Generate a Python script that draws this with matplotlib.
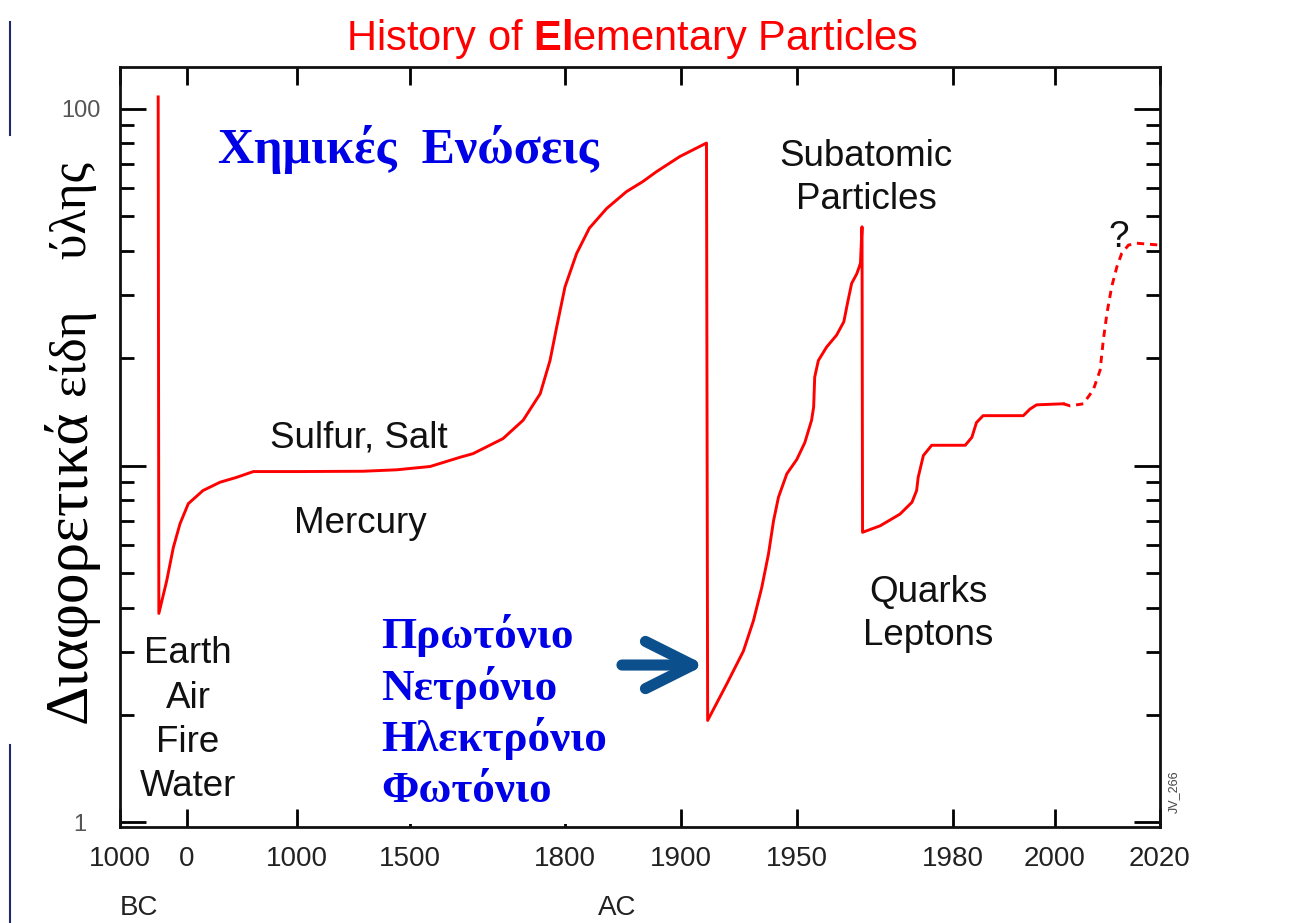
import numpy as np
import matplotlib.pyplot as plt
from matplotlib.lines import Line2D
from matplotlib.patches import Rectangle, FancyArrowPatch
from matplotlib.ticker import NullFormatter, NullLocator, LogLocator

plt.rcParams['font.family'] = ['Liberation Sans', 'DejaVu Sans']
plt.rcParams['mathtext.fontset'] = 'custom'
plt.rcParams['mathtext.rm'] = 'Liberation Sans'
plt.rcParams['mathtext.bf'] = 'Liberation Sans:bold'

# x axis: uneven year scale, ticks spaced as in the original figure
tick_years = [-1000, 0, 1000, 1500, 1800, 1900, 1950, 1980, 2000, 2020]
tick_labels = ['1000', '0', '1000', '1500', '1800', '1900', '1950', '1980', '2000', '2020']
tick_pos = [0.0, 0.0644, 0.1702, 0.2788, 0.4279, 0.5394, 0.6510, 0.8010, 0.8990, 1.0]

# number of "elementary" kinds of matter
years = [-430, -420, -303, -204, -104, 12, 145, 300, 452, 603,
         997, 1292, 1441, 1539, 1597, 1622, 1680, 1719, 1752, 1771,
         1784, 1800, 1810, 1821, 1836, 1853, 1867, 1879, 1899, 1911,
         1911.5, 1919.7, 1926.9, 1931.2, 1934.8, 1937.7, 1939.9, 1942.0, 1945.6, 1949.9,
         1951.5, 1952.8, 1953.2, 1953.4, 1954.1, 1955.7, 1957.6, 1959.0, 1959.7, 1960.5,
         1961.5, 1962.2, 1962.5, 1962.6, 1966.0, 1969.8, 1972.1, 1973.0, 1973.3, 1974.3,
         1975.9, 1982.4, 1983.7, 1984.6, 1985.9, 1993.8, 1995.1, 1996.4, 2001.6]
counts = [108, 3.85, 4.75, 5.89, 6.87, 7.82, 8.51, 8.98, 9.27, 9.62,
          9.62, 9.64, 9.73, 9.94, 10.55, 10.8, 11.9, 13.4, 15.9, 19.7,
          24.5, 31.7, 39.3, 46.3, 52.6, 58.6, 62.5, 66.7, 73.5, 80.2,
          1.93, 2.44, 3.02, 3.67, 4.55, 5.65, 7.01, 8.15, 9.48, 10.4,
          11.6, 13.4, 14.6, 17.7, 19.7, 21.5, 23.2, 25.3, 28.5, 32.4,
          34.5, 36.9, 46.7, 6.5, 6.78, 7.31, 7.89, 8.51, 9.27, 10.67,
          11.4, 11.4, 12.0, 13.2, 13.8, 13.8, 14.4, 14.8, 14.9]

# speculative future (dashed)
future_years = [2001.6, 2002.9, 2005.4, 2007.3, 2008.6, 2009.2, 2009.9, 2010.8, 2011.8, 2012.7, 2014.0, 2015.6, 2020]
future_counts = [14.9, 14.7, 14.9, 16.3, 18.5, 22.4, 26.7, 31.7, 36.1, 39.3, 41.5, 42.0, 41.5]

era_labels = ['Earth', 'Air', 'Fire', 'Water']
particles_gr = ['Πρωτόνιο', 'Νετρόνιο', 'Ηλεκτρόνιο', 'Φωτόνιο']


def fwd(x):
    return np.interp(x, tick_years, tick_pos)


def inv(p):
    return np.interp(p, tick_pos, tick_years)


fig = plt.figure(figsize=(12.89, 9.23), dpi=100)
ax = fig.add_axes([0.0931, 0.1040, 0.8068, 0.8234])
ax.set_xscale('function', functions=(fwd, inv))
ax.set_yscale('log')

ax.plot(years, counts, color='red', lw=2.1, solid_joinstyle='round')
ax.plot(future_years, future_counts, color='red', lw=2.1, dashes=(2.5, 2))

ax.set_xlim(-1000, 2020)
ax.set_ylim(0.97, 131)

ax.set_xticks(tick_years)
ax.set_xticklabels(tick_labels)
ax.xaxis.set_minor_locator(NullLocator())
ax.tick_params(axis='x', which='major', direction='in', top=True, bottom=True,
               length=13, width=2, pad=14, labelsize=20, labelcolor='#222222')

ax.set_yticks([1, 10, 100])
ax.set_yticklabels(['1  ', '', '100'])
ax.yaxis.set_minor_locator(LogLocator(base=10, subs=np.arange(2, 10)))
ax.yaxis.set_minor_formatter(NullFormatter())
ax.tick_params(axis='y', which='major', direction='in', left=True, right=True,
               length=19, width=2, pad=14, labelsize=17, labelcolor='#555555')
ax.tick_params(axis='y', which='minor', direction='in', left=True, right=True,
               length=10, width=2)
for s in ax.spines.values():
    s.set_linewidth(2)
    s.set_color('#111111')

# annotations
txt = dict(transform=ax.transAxes, fontsize=26.5, color='#111111', ha='center', va='baseline')
ax.text(0.2298, 0.500, 'Sulfur, Salt', **txt)
ax.text(0.2308, 0.3868, 'Mercury', **txt)
for lab, y in zip(era_labels, [0.2158, 0.1566, 0.0987, 0.0408]):
    ax.text(0.0654, y, lab, **txt)
ax.text(0.7173, 0.8697, 'Subatomic', **txt)
ax.text(0.7173, 0.8132, 'Particles', **txt)
ax.text(0.7769, 0.2961, 'Quarks', **txt)
ax.text(0.7769, 0.2395, 'Leptons', **txt)
ax.text(0.9606, 0.7632, '?', **txt)
ax.text(1.0135, 0.046, 'JV_266', transform=ax.transAxes, fontsize=9, color='#444444',
        rotation=90, ha='center', va='center')
ax.text(0.0183, -0.1066, 'BC', transform=ax.transAxes, fontsize=20, color='#222222', ha='center', va='center')
ax.text(0.4779, -0.1066, 'AC', transform=ax.transAxes, fontsize=20, color='#222222', ha='center', va='center')

# Greek overlays (slide layer, drawn above the axes)
blue = '#0000e6'
ax.text(0.0942, 0.8737, 'Χημικές  Ενώσεις', transform=ax.transAxes, fontsize=36,
        family='Liberation Serif', weight='bold', color=blue, ha='left', va='baseline')
fig.add_artist(Rectangle((0.2808, 0.1073), 0.1963, 0.2318, transform=fig.transFigure,
                         facecolor='white', edgecolor='none', zorder=1))
for lab, y in zip(particles_gr, [0.2979, 0.2416, 0.1863, 0.1311]):
    fig.text(0.2956, y, lab, fontsize=32.5, family='Liberation Serif', weight='bold',
             color=blue, ha='left', va='baseline', zorder=3)
fig.add_artist(FancyArrowPatch((0.4825, 0.2795), (0.5470, 0.2795), transform=fig.transFigure,
                               arrowstyle='->,head_length=1.7,head_width=0.85', lw=8,
                               color='#0b4f8c', shrinkA=0, shrinkB=0, mutation_scale=20,
                               capstyle='round', joinstyle='round', zorder=3))

# y label (Greek), two sizes
fig.text(0.0668, 0.2167, 'Διαφορετικά', rotation=90, rotation_mode='anchor', ha='left',
         va='baseline', fontsize=44, family='Liberation Serif', color='black')
fig.text(0.0668, 0.5700, 'είδη    ύλης', rotation=90, rotation_mode='anchor', ha='left',
         va='baseline', fontsize=37, family='Liberation Serif', color='black')

# title
fig.text(0.4903, 0.9458, r'History of $\mathbf{El}$ementary Particles', ha='center',
         va='baseline', fontsize=30, color='red')

# slide border remnants
fig.add_artist(Line2D([0.0078, 0.0078], [0.976, 0.8537], color='#1f2a6b', lw=1.5))
fig.add_artist(Line2D([0.0078, 0.0078], [0.1929, 0.0], color='#1f2a6b', lw=1.5))

fig.savefig('out.png', dpi=100)
